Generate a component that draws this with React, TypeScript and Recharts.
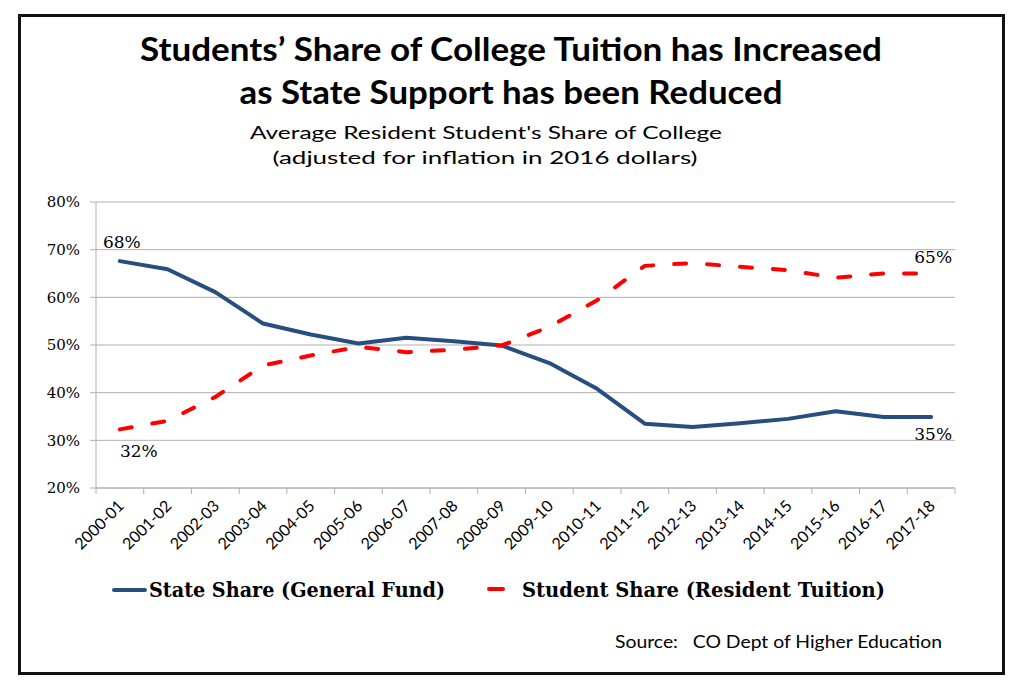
import React from "react";
import { CartesianGrid, Line, LineChart, XAxis, YAxis } from "recharts";

const years = [
  "2000-01", "2001-02", "2002-03", "2003-04", "2004-05", "2005-06",
  "2006-07", "2007-08", "2008-09", "2009-10", "2010-11", "2011-12",
  "2012-13", "2013-14", "2014-15", "2015-16", "2016-17", "2017-18",
];
const stateShare = [
  67.6, 65.9, 61.1, 54.5, 52.2, 50.3, 51.5, 50.8, 49.9, 46.2, 40.8, 33.5,
  32.8, 33.6, 34.5, 36.1, 34.9, 34.9,
];
const studentShare = [
  32.3, 34.1, 39.1, 45.7, 47.8, 49.6, 48.5, 49.0, 49.9, 53.8, 59.4, 66.6,
  67.2, 66.4, 65.7, 64.1, 65.0, 65.0,
];
const yTicks = [20, 30, 40, 50, 60, 70, 80];

const NAVY = "#264f80";
const RED = "#ff0000";
const GRID = "#b0b0b0";

// plot box: x 96..955, y 202..488
const PLOT_LEFT = 96;
const PLOT_RIGHT = 955;
const BAND = (PLOT_RIGHT - PLOT_LEFT) / years.length;

const data = years.map((year, i) => ({
  year,
  state: stateShare[i],
  student: studentShare[i],
}));

const last = years.length - 1;

function XTick(props: any) {
  const { x, y, payload, index } = props;
  const tx = x + 5;
  const ty = y + 19;
  return (
    <g>
      <line x1={x - BAND / 2} x2={x - BAND / 2} y1={y} y2={y + 6} stroke={GRID} />
      {index === last && (
        <line x1={x + BAND / 2} x2={x + BAND / 2} y1={y} y2={y + 6} stroke={GRID} />
      )}
      <text
        x={tx}
        y={ty}
        textAnchor="end"
        fontFamily="Lato, sans-serif"
        fontSize={16}
        fill="#000"
        transform={`rotate(-45, ${tx}, ${ty})`}
      >
        {payload.value}
      </text>
    </g>
  );
}

const labelStyle = {
  fontFamily: "'DejaVu Serif', serif",
  fontSize: 17,
  fill: "#000",
};

function stateLabel(p: any) {
  const { x, y, index, value } = p;
  if (index === 0)
    return (
      <text x={x + 2} y={y - 13} textAnchor="middle" {...labelStyle}>
        {Math.round(value)}%
      </text>
    );
  if (index === last)
    return (
      <text x={x + 2} y={y + 23} textAnchor="middle" {...labelStyle}>
        {Math.round(value)}%
      </text>
    );
  return null;
}

function studentLabel(p: any) {
  const { x, y, index, value } = p;
  if (index === 0)
    return (
      <text x={x + 19} y={y + 28} textAnchor="middle" {...labelStyle}>
        {Math.round(value)}%
      </text>
    );
  if (index === last)
    return (
      <text x={x + 2} y={y - 11} textAnchor="middle" {...labelStyle}>
        {Math.round(value)}%
      </text>
    );
  return null;
}

export default function App() {
  return (
    <div
      style={{
        position: "absolute",
        left: 0,
        top: 0,
        width: 1024,
        height: 693,
        background: "#fff",
      }}
    >
      <div
        style={{
          position: "absolute",
          left: 18,
          top: 14,
          width: 987,
          height: 661,
          border: "3px solid #111",
          boxSizing: "border-box",
        }}
      />
      <LineChart
        width={1024}
        height={693}
        data={data}
        margin={{ top: 202, right: 1024 - PLOT_RIGHT, bottom: 125, left: PLOT_LEFT - 60 }}
        style={{ position: "absolute", left: 0, top: 0 }}
      >
        <CartesianGrid vertical={false} stroke={GRID} />
        <XAxis
          dataKey="year"
          interval={0}
          padding={{ left: BAND / 2, right: BAND / 2 }}
          height={80}
          tickLine={false}
          tickSize={0}
          tickMargin={0}
          axisLine={{ stroke: GRID }}
          tick={<XTick />}
        />
        <YAxis
          width={60}
          domain={[20, 80]}
          ticks={yTicks}
          tickFormatter={(v) => `${v}%`}
          axisLine={{ stroke: GRID }}
          tickLine={{ stroke: GRID }}
          tickSize={6}
          tickMargin={10}
          tick={{ fontFamily: "'DejaVu Serif', serif", fontSize: 15, fill: "#000" }}
        />
        <Line
          dataKey="state"
          stroke={NAVY}
          strokeWidth={4}
          strokeLinecap="round"
          strokeLinejoin="round"
          dot={false}
          isAnimationActive={false}
          label={stateLabel}
        />
        <Line
          dataKey="student"
          stroke={RED}
          strokeWidth={4}
          strokeDasharray="12 21"
          strokeLinecap="round"
          strokeLinejoin="round"
          dot={false}
          isAnimationActive={false}
          label={studentLabel}
        />
      </LineChart>
      <svg
        width={1024}
        height={693}
        style={{ position: "absolute", left: 0, top: 0, pointerEvents: "none" }}
      >
        <g fontFamily="Lato, sans-serif" fill="#000">
          <text x={511} y={61} textAnchor="middle" fontWeight={700} fontSize={33}
            textLength={742} lengthAdjust="spacingAndGlyphs">
            Students’ Share of College Tuition has Increased
          </text>
          <text x={511} y={104} textAnchor="middle" fontWeight={700} fontSize={33}
            textLength={543} lengthAdjust="spacingAndGlyphs">
            as State Support has been Reduced
          </text>
          <text x={486} y={139} textAnchor="middle" fontSize={18}
            textLength={472} lengthAdjust="spacingAndGlyphs">
            Average Resident Student's Share of College
          </text>
          <text x={485} y={164} textAnchor="middle" fontSize={18}
            textLength={425} lengthAdjust="spacingAndGlyphs">
            (adjusted for inflation in 2016 dollars)
          </text>
          <text x={615} y={648} fontSize={17} textLength={327} lengthAdjust="spacingAndGlyphs"
            style={{ whiteSpace: "pre" }}>
            {"Source:   CO Dept of Higher Education"}
          </text>
        </g>
        <line x1={114} x2={145} y1={590} y2={590} stroke={NAVY} strokeWidth={4} strokeLinecap="round" />
        <line x1={489} x2={503} y1={589} y2={589} stroke={RED} strokeWidth={4} strokeLinecap="round" />
        <g fontFamily="'DejaVu Serif', serif" fontWeight={700} fontSize={20} fill="#000">
          <text x={149} y={597} textLength={296} lengthAdjust="spacingAndGlyphs">
            State Share (General Fund)
          </text>
          <text x={522} y={597} textLength={363} lengthAdjust="spacingAndGlyphs">
            Student Share (Resident Tuition)
          </text>
        </g>
      </svg>
    </div>
  );
}
